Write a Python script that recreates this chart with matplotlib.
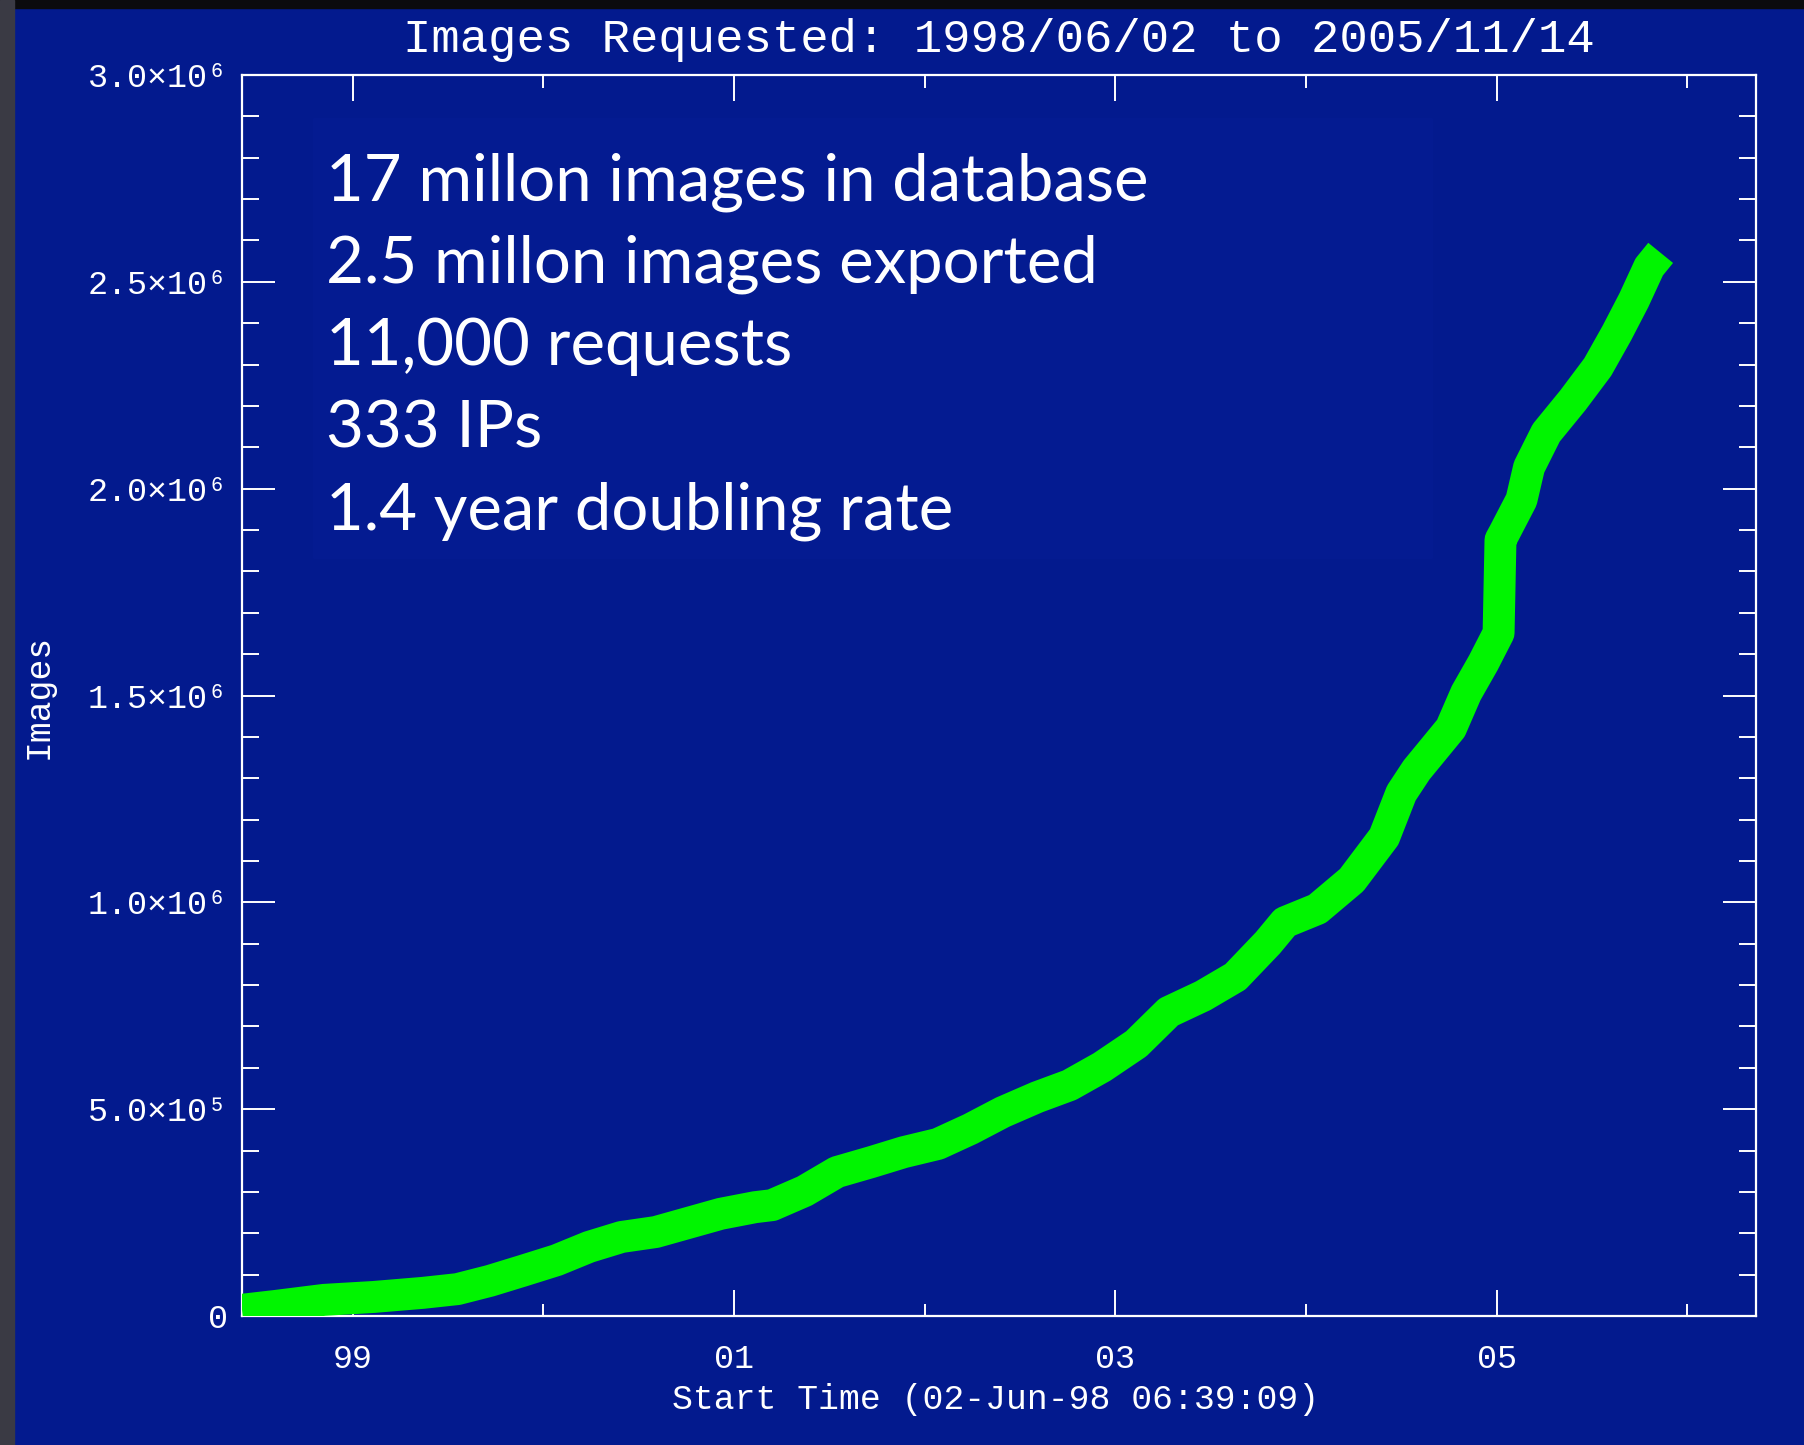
import numpy as np
import matplotlib.pyplot as plt
from matplotlib.patches import Rectangle

# cumulative images requested (decimal year, thousands of images)
years = [1998.42, 1998.59, 1998.85, 1999.11, 1999.37, 1999.55, 1999.72, 1999.89,
         2000.07, 2000.24, 2000.41, 2000.59, 2000.76, 2000.93, 2001.11, 2001.20,
         2001.37, 2001.54, 2001.72, 2001.89, 2002.07, 2002.24, 2002.41, 2002.59,
         2002.76, 2002.93, 2003.11, 2003.28, 2003.46, 2003.63, 2003.80, 2003.89,
         2004.06, 2004.24, 2004.41, 2004.50, 2004.58, 2004.76, 2004.84, 2004.93,
         2005.01, 2005.02, 2005.04, 2005.13, 2005.17, 2005.26, 2005.40, 2005.53,
         2005.63, 2005.72, 2005.80, 2005.86]
images_k = [15, 24, 39, 46, 56, 65, 85, 109, 135, 167, 191, 203, 225, 247, 263, 268,
            302, 348, 372, 396, 416, 452, 493, 529, 558, 602, 658, 735, 774, 820, 902, 952,
            984, 1054, 1158, 1264, 1320, 1421, 1506, 1579, 1651, 1876, 1893, 1973, 2052,
            2135, 2214, 2294, 2376, 2456, 2536, 2570]

ytick_vals = [0, 5e5, 1e6, 1.5e6, 2e6, 2.5e6, 3e6]
ytick_labels = ["0", "5.0×10⁵", "1.0×10⁶", "1.5×10⁶", "2.0×10⁶", "2.5×10⁶", "3.0×10⁶"]
xtick_major = [1999, 2001, 2003, 2005]
xtick_minor = [2000, 2002, 2004, 2006]
xtick_labels = ["99", "01", "03", "05"]

notes = ["17 millon images in database",
         "2.5 millon images exported",
         "11,000 requests",
         "333 IPs",
         "1.4 year doubling rate"]

BLUE = "#031a8e"
mono = ["Liberation Mono", "DejaVu Sans Mono"]

fig = plt.figure(figsize=(18.04, 14.45), dpi=100)
fig.patch.set_facecolor(BLUE)
# dark slide border top/left
fig.add_artist(Rectangle((0, 1 - 8/1445), 1, 8/1445, transform=fig.transFigure,
                         color="#0b0b0d", zorder=0))
fig.add_artist(Rectangle((0, 0), 14/1804, 1, transform=fig.transFigure,
                         color="#3a3a44", zorder=0))

ax = fig.add_axes([242/1804, 1 - 1316/1445, (1756 - 242)/1804, (1316 - 75)/1445])
ax.set_facecolor(BLUE)

ax.plot(years, np.array(images_k) * 1000, color="#00f500", lw=23,
        solid_capstyle="butt", solid_joinstyle="round", zorder=3)

ax.set_xlim(1998.42, 2006.36)
ax.set_ylim(0, 3e6)

ax.set_yticks(ytick_vals)
ax.set_yticklabels(ytick_labels, family=mono)
ax.set_yticks(np.arange(0, 3.01e6, 1e5), minor=True)
ax.set_xticks(xtick_major)
ax.set_xticklabels(xtick_labels, family=mono)
ax.set_xticks(xtick_minor, minor=True)

for s in ax.spines.values():
    s.set_color("white")
    s.set_linewidth(1.6)
ax.tick_params(axis="both", which="both", direction="in", colors="white",
               top=True, right=True, width=1.4, labelsize=24)
ax.tick_params(axis="y", which="major", length=24, pad=10)
ax.tick_params(axis="y", which="minor", length=12)
ax.tick_params(axis="x", which="major", length=19, pad=20)
ax.tick_params(axis="x", which="minor", length=9)

fig.text(999/1804, 1 - 40/1445, "Images Requested: 1998/06/02 to 2005/11/14",
         ha="center", va="center", color="white", fontsize=34, family=mono)
fig.text(996/1804, 1 - 1400/1445, "Start Time (02-Jun-98 06:39:09)",
         ha="center", va="center", color="white", fontsize=25, family=mono)
fig.text(38/1804, 1 - 696/1445, "Images", rotation=90,
         ha="center", va="center", color="white", fontsize=25, family=mono)

# pasted text box
fig.add_artist(Rectangle((313/1804, 1 - 558/1445), (1432 - 313)/1804, (558 - 118)/1445,
                         transform=fig.transFigure, color="#041b91", zorder=1))
for i, line in enumerate(notes):
    fig.text(326/1804, 1 - (201 + 82*i)/1445, line, ha="left", va="baseline",
             color="white", fontsize=47, family="Lato", zorder=5)

fig.savefig("out.png", dpi=100, facecolor=fig.get_facecolor())
